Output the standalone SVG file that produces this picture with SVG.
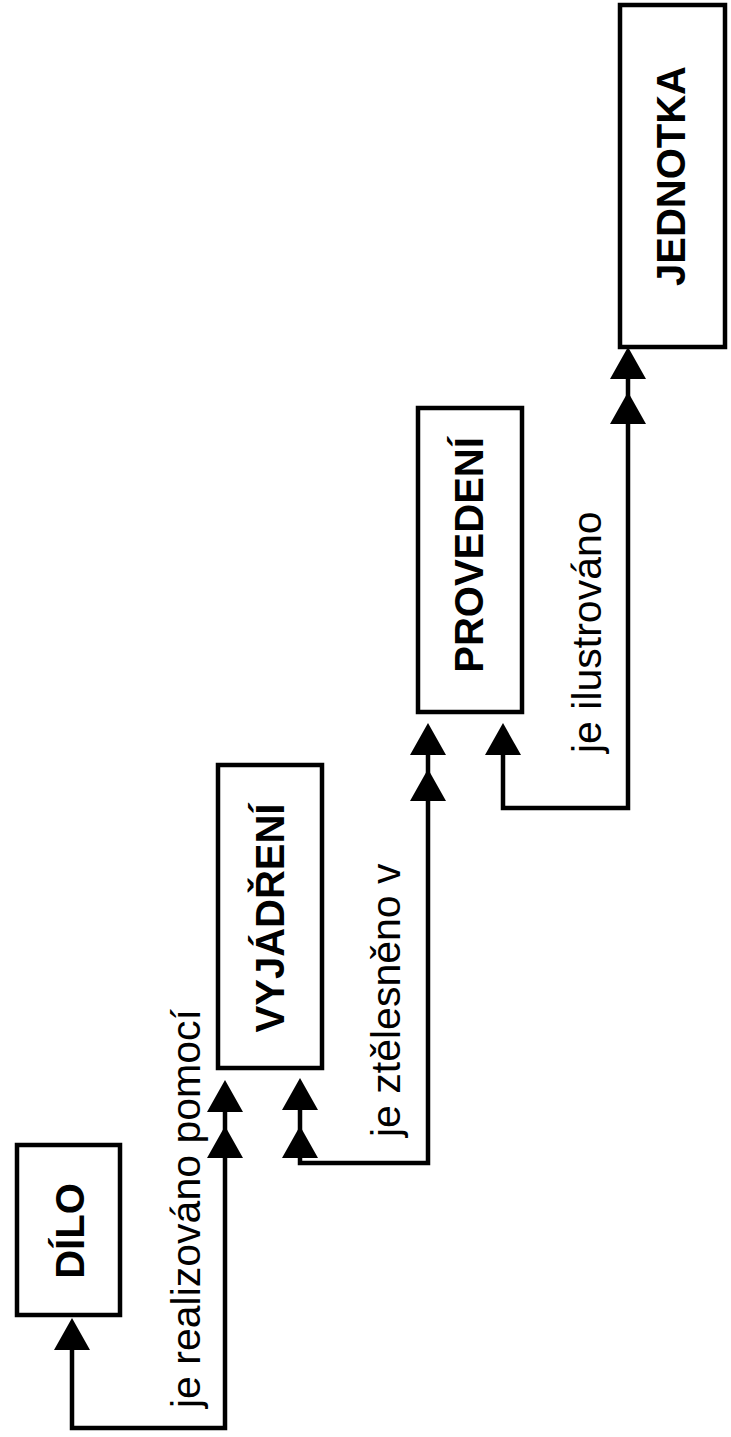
<svg xmlns="http://www.w3.org/2000/svg" xmlns:xlink="http://www.w3.org/1999/xlink" width="731" height="1437" viewBox="0 0 731 1437">
<style>
.box{fill:#fff;stroke:#000;stroke-width:4.5}
.nt{font-family:"Liberation Sans",Arial,sans-serif;font-weight:bold;font-size:40px;fill:#000;text-anchor:middle}
.lb{font-family:"Liberation Sans",Arial,sans-serif;font-size:41px;fill:#000;text-anchor:start}
.cn{fill:none;stroke:#000;stroke-width:4.5;stroke-linejoin:miter}
</style>
<defs>
<path id="ah" d="M0,0 L-18,32 L18,32 Z" fill="#000"/>
</defs>
<rect width="731" height="1437" fill="#fff"/>
<g id="connectors">
<path class="cn" d="M72,1345 V1428 H225 V1110"/>
<use xlink:href="#ah" x="72" y="1318"/>
<use xlink:href="#ah" x="225" y="1080"/>
<use xlink:href="#ah" x="225" y="1126"/>
<path class="cn" d="M300,1110 V1163 H428 V752"/>
<use xlink:href="#ah" x="300" y="1078"/>
<use xlink:href="#ah" x="300" y="1126"/>
<use xlink:href="#ah" x="428" y="723"/>
<use xlink:href="#ah" x="428" y="769"/>
<path class="cn" d="M503,752 V808 H628 V378"/>
<use xlink:href="#ah" x="503" y="723"/>
<use xlink:href="#ah" x="628" y="347"/>
<use xlink:href="#ah" x="628" y="392"/>
<text class="lb" transform="translate(200,1408) rotate(-90)">je realizováno pomocí</text>
<text class="lb" transform="translate(400,1137) rotate(-90)">je ztělesněno v</text>
<text class="lb" transform="translate(601,753) rotate(-90)">je ilustrováno</text>
</g>
<g id="dilo">
<rect class="box" x="17" y="1145" width="103" height="170"/>
<text class="nt" transform="translate(70,1231) rotate(-90)" y="14">DÍLO</text>
</g>
<g id="vyjadreni">
<rect class="box" x="218" y="765" width="104" height="303"/>
<text class="nt" transform="translate(270,918) rotate(-90)" y="14">VYJÁDŘENÍ</text>
</g>
<g id="provedeni">
<rect class="box" x="418" y="408" width="104" height="304"/>
<text class="nt" transform="translate(469,555) rotate(-90)" y="14">PROVEDENÍ</text>
</g>
<g id="jednotka">
<rect class="box" x="620" y="5" width="105" height="342"/>
<text class="nt" transform="translate(671,176) rotate(-90)" y="14">JEDNOTKA</text>
</g>
</svg>
